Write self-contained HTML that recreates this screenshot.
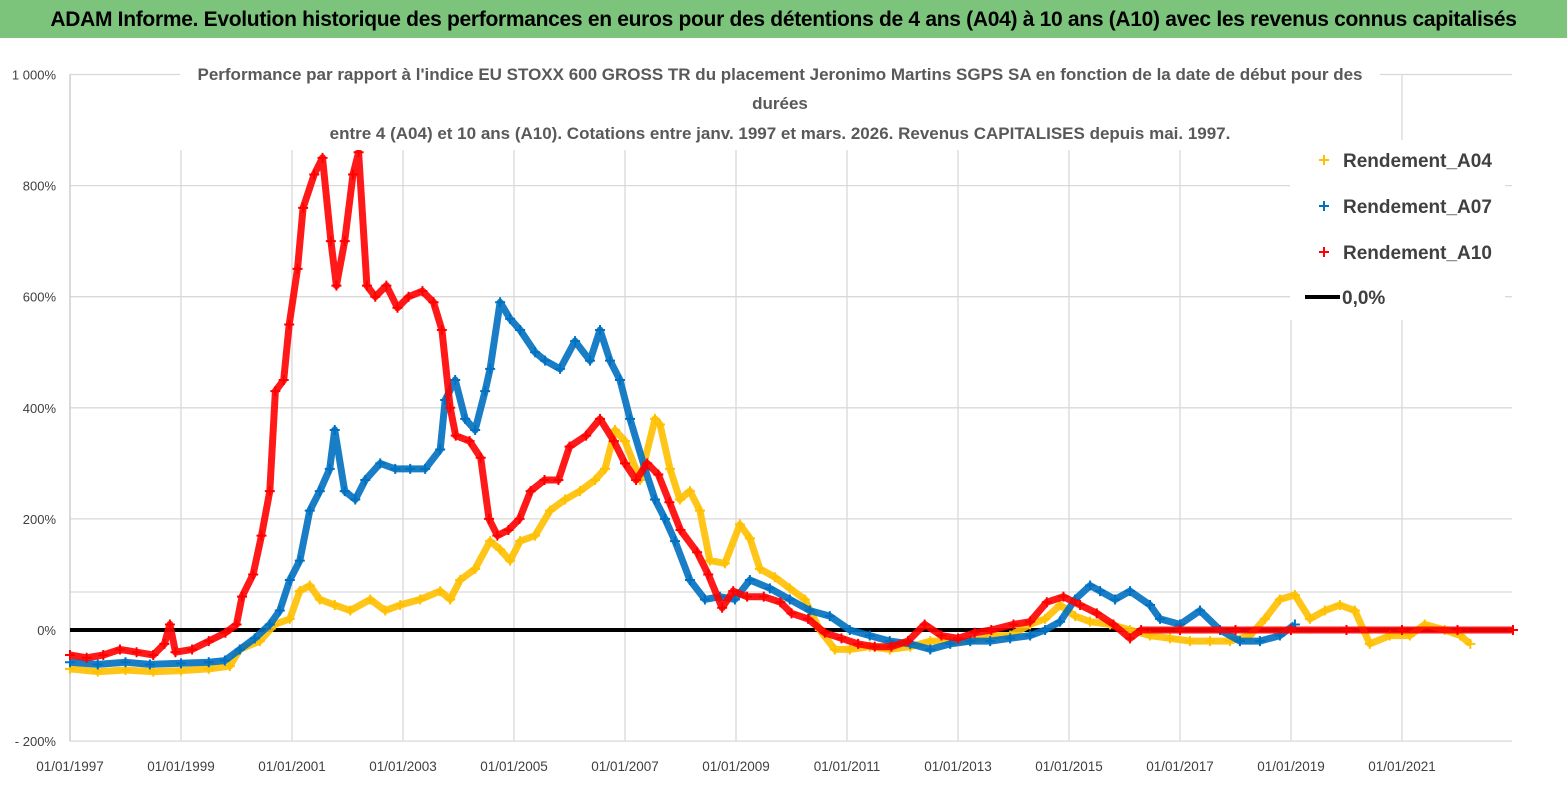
<!DOCTYPE html>
<html><head><meta charset="utf-8">
<style>
body{margin:0;background:#fff;width:1567px;height:790px;overflow:hidden;font-family:"Liberation Sans",sans-serif}
#hdr{position:absolute;left:0;top:0;width:1567px;height:38px;background:#7cc47c;text-align:center;font:bold 21px "Liberation Sans",sans-serif;line-height:40px;color:#000;letter-spacing:-0.3px}
svg{position:absolute;left:0;top:0}
</style></head>
<body>
<div id="hdr">ADAM Informe. Evolution historique des performances en euros pour des détentions de 4 ans (A04) à 10 ans (A10) avec les revenus connus capitalisés</div>
<svg id="chart" width="1567" height="790"></svg>
<script>
const yTicks=[-200,0,200,400,600,800,1000];
const yTickLabels=["- 200%","0%","200%","400%","600%","800%","1 000%"];
const xTickYears=[1997,1999,2001,2003,2005,2007,2009,2011,2013,2015,2017,2019,2021];
const xTickLabels=["01/01/1997","01/01/1999","01/01/2001","01/01/2003","01/01/2005","01/01/2007","01/01/2009","01/01/2011","01/01/2013","01/01/2015","01/01/2017","01/01/2019","01/01/2021"];

const a04Years=[1997.0,1997.5,1998.0,1998.5,1999.0,1999.5,1999.88,2000.06,2000.42,2000.69,2000.96,2001.14,2001.32,2001.5,2001.77,2002.05,2002.41,2002.68,2002.95,2003.31,2003.67,2003.85,2004.03,2004.3,2004.57,2004.75,2004.93,2005.11,2005.38,2005.65,2005.92,2006.19,2006.46,2006.64,2006.82,2007.0,2007.27,2007.54,2007.63,2007.81,2007.99,2008.17,2008.35,2008.53,2008.8,2009.07,2009.25,2009.43,2009.7,2009.97,2010.24,2010.51,2010.78,2011.05,2011.41,2011.77,2012.14,2012.5,2012.86,2013.22,2013.58,2013.94,2014.3,2014.57,2014.84,2015.11,2015.38,2015.74,2016.1,2016.46,2016.82,2017.18,2017.54,2017.9,2018.26,2018.53,2018.8,2019.07,2019.34,2019.61,2019.88,2020.15,2020.42,2020.78,2021.14,2021.41,2021.77,2022.05,2022.23];
const a04Values=[-70,-75,-72,-75,-73,-70,-65,-35,-20,10,20,70,80,55,45,35,55,35,45,55,70,55,90,110,160,145,125,160,170,215,235,250,270,290,360,340,270,380,370,290,235,250,215,125,120,190,165,110,95,75,55,0,-35,-35,-30,-35,-30,-20,-20,-20,-10,-10,10,20,45,25,15,10,0,-10,-15,-20,-20,-20,-10,20,55,63,20,35,45,35,-25,-10,-10,10,0,-10,-25,-20];

const a07Years=[1997.0,1997.5,1998.0,1998.44,1999.0,1999.5,1999.79,2000.06,2000.33,2000.6,2000.78,2000.96,2001.14,2001.32,2001.5,2001.68,2001.77,2001.95,2002.14,2002.32,2002.59,2002.86,2003.13,2003.4,2003.67,2003.76,2003.94,2004.12,2004.3,2004.48,2004.57,2004.75,2004.93,2005.11,2005.38,2005.56,2005.83,2006.1,2006.37,2006.55,2006.73,2006.91,2007.09,2007.36,2007.54,2007.72,2007.9,2008.17,2008.44,2008.71,2008.98,2009.25,2009.61,2009.97,2010.33,2010.69,2011.05,2011.41,2011.77,2012.14,2012.5,2012.86,2013.22,2013.58,2013.94,2014.3,2014.57,2014.84,2015.11,2015.38,2015.56,2015.83,2016.1,2016.46,2016.64,2017.0,2017.36,2017.72,2018.08,2018.44,2018.8,2019.07];
const a07Values=[-58,-62,-58,-62,-60,-58,-55,-35,-15,10,35,90,125,215,250,290,360,250,235,270,300,290,290,290,325,414,450,380,360,430,470,590,560,540,500,485,470,520,485,540,485,450,380,290,235,200,160,90,55,60,55,90,75,55,35,25,0,-10,-20,-25,-35,-25,-20,-20,-15,-10,0,15,55,80,70,55,70,45,20,10,35,0,-20,-20,-10,10,25,0];

const a10Years=[1997.0,1997.3,1997.6,1997.9,1998.2,1998.5,1998.7,1998.8,1998.9,1999.2,1999.5,1999.8,2000.0,2000.1,2000.3,2000.45,2000.6,2000.7,2000.85,2000.95,2001.1,2001.2,2001.4,2001.55,2001.7,2001.8,2001.95,2002.1,2002.2,2002.35,2002.5,2002.7,2002.9,2003.1,2003.35,2003.55,2003.7,2003.85,2003.95,2004.2,2004.4,2004.55,2004.7,2004.9,2005.1,2005.3,2005.55,2005.8,2006.0,2006.3,2006.55,2006.8,2007.0,2007.2,2007.4,2007.6,2007.8,2008.0,2008.3,2008.5,2008.75,2008.95,2009.2,2009.5,2009.8,2010.0,2010.3,2010.6,2010.9,2011.2,2011.5,2011.8,2012.1,2012.4,2012.7,2013.0,2013.3,2013.6,2014.0,2014.3,2014.6,2014.9,2015.2,2015.5,2015.8,2016.1,2016.3,2017,2018,2019,2020,2021,2022,2023];
const a10Values=[-45,-50,-45,-35,-40,-45,-25,10,-40,-35,-20,-5,10,60,100,170,250,430,450,550,650,760,820,850,700,620,700,820,860,620,600,620,580,600,610,590,540,400,350,340,310,200,170,180,200,250,270,270,330,350,380,340,300,270,300,280,230,180,140,100,40,70,60,60,50,30,20,-5,-15,-25,-30,-30,-20,10,-10,-15,-5,0,10,15,50,60,45,30,10,-15,0,0,0,0,0,0,0,0];

const NS="http://www.w3.org/2000/svg";
const svg=document.getElementById('chart');
const X0=70,X1=1512;
const xs=y=>X0+(y-1997)*55.5;
const ys=v=>630-v*111.1/200;
function mk(t,attrs,parent){const e=document.createElementNS(NS,t);for(const k in attrs)e.setAttribute(k,attrs[k]);(parent||svg).appendChild(e);return e;}

// gridlines
yTicks.forEach((v,i)=>{
  const l=mk('line',{x1:X0,x2:X1,y1:ys(v),y2:ys(v),stroke:'#d9d9d9','stroke-width':1.3});
  
  
  const t=mk('text',{x:56,y:ys(v)+5,'text-anchor':'end','font-size':13,fill:'#404040','font-family':'Liberation Sans, sans-serif'});
  t.textContent=yTickLabels[i];
  
  
});
const extra=mk('line',{x1:X0,x2:X1,y1:592,y2:592,stroke:'#d9d9d9','stroke-width':1.3});


xTickYears.forEach((yr,i)=>{
  const l=mk('line',{x1:xs(yr),x2:xs(yr),y1:ys(1000),y2:ys(-200),stroke:'#d9d9d9','stroke-width':1.3});
  
  
  const t=mk('text',{x:xs(yr),y:771,'text-anchor':'middle','font-size':13.5,fill:'#404040','font-family':'Liberation Sans, sans-serif'});
  t.textContent=xTickLabels[i];
  
  
});
const yax=mk('line',{x1:X0,x2:X0,y1:ys(1000),y2:ys(-200),stroke:'#bfbfbf','stroke-width':1});



// zero line
const z=mk('line',{x1:X0,x2:X1,y1:ys(0),y2:ys(0),stroke:'#000','stroke-width':4});



function series(years,vals,color,name){
  const g=mk('g',{});
  
  
  const pts=years.map((y,i)=>xs(y).toFixed(1)+','+ys(vals[i]).toFixed(1)).join(' ');
  const pl=mk('polyline',{points:pts,fill:'none',stroke:color,'stroke-width':7,'stroke-linejoin':'round','stroke-opacity':0.9},g);
  
  
  years.forEach((y,i)=>{
    const cx=xs(y),cy=ys(vals[i]);
    const p=mk('path',{d:`M${cx-5},${cy}H${cx+5}M${cx},${cy-5}V${cy+5}`,stroke:color,'stroke-width':2},g);
    
    
  });
}
series(a04Years,a04Values,'#ffc000','series-a04');
series(a07Years,a07Values,'#0070c0','series-a07');
series(a10Years,a10Values,'#ff0000','series-a10');

// title background + text
const tb=mk('rect',{x:180,y:60,width:1200,height:90,fill:'#fff'});


const titles=["Performance par rapport à l'indice EU STOXX 600 GROSS TR  du placement Jeronimo Martins SGPS SA en fonction de la date de début pour des","durées","entre 4 (A04) et 10 ans (A10). Cotations entre janv. 1997 et mars. 2026. Revenus CAPITALISES depuis mai. 1997."];
const ty=[80,109,139];
titles.forEach((s,i)=>{
  const t=mk('text',{x:780,y:ty[i],'text-anchor':'middle','font-size':17,'font-weight':'bold',fill:'#595959','font-family':'Liberation Sans, sans-serif'});
  t.textContent=s;
  
  
});

// legend
const lg=mk('g',{});


mk('rect',{x:1290,y:140,width:215,height:180,fill:'#fff'},lg);
const legNames=['Rendement_A04','Rendement_A07','Rendement_A10'];
const legColors=['#ffc000','#0070c0','#ff0000'];
legNames.forEach((n,i)=>{
  const y=160+i*46;
  const e=mk('g',{},lg);
  
  
  mk('path',{d:`M1319,${y}H1329M1324,${y-5}V${y+5}`,stroke:legColors[i],'stroke-width':2},e);
  const t=mk('text',{x:1343,y:y+7,'font-size':19,'font-weight':'bold',fill:'#404040','font-family':'Liberation Sans, sans-serif'},e);
  t.textContent=n;
});
const e0=mk('g',{},lg);


mk('line',{x1:1305,x2:1340,y1:297,y2:297,stroke:'#000','stroke-width':4},e0);
const t0=mk('text',{x:1342,y:304,'font-size':19,'font-weight':'bold',fill:'#404040','font-family':'Liberation Sans, sans-serif'},e0);
t0.textContent='0,0%';
</script>
</body></html>
